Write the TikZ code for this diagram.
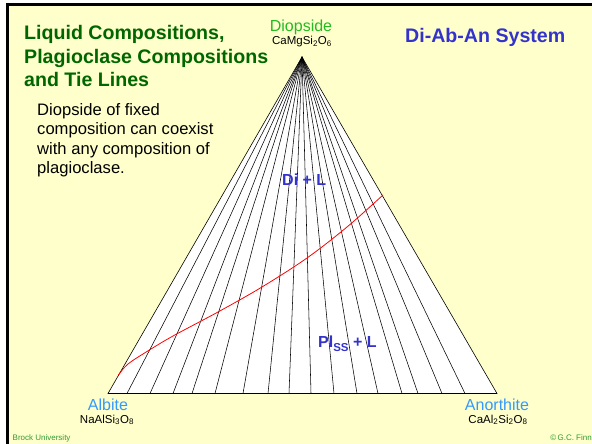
\documentclass[tikz,border=0pt]{standalone}
\usepackage{fontspec}
\setmainfont{Liberation Sans}
\definecolor{bgyellow}{HTML}{FFFFCC}
\definecolor{titlegreen}{HTML}{006600}
\definecolor{digreen}{HTML}{22BB22}
\definecolor{sysblue}{HTML}{3333CC}
\definecolor{endblue}{HTML}{3399FF}
\definecolor{footgreen}{HTML}{339933}
\tikzset{
  titletext/.style={anchor=base west, inner sep=0pt, text=titlegreen, font=\fontsize{19.6}{23.5}\selectfont\bfseries},
  bodytext/.style={anchor=base west, inner sep=0pt, text=black, font=\fontsize{16.6}{19.5}\selectfont},
  endname/.style={anchor=base, inner sep=0pt, text=endblue, font=\fontsize{16}{19}\selectfont},
  formula/.style={anchor=base, inner sep=0pt, text=black, font=\fontsize{11.5}{13}\selectfont},
  fieldlabel/.style={anchor=base west, inner sep=0pt, text=sysblue, font=\fontsize{16}{19}\selectfont\bfseries},
  footer/.style={anchor=base, inner sep=0pt, text=footgreen, font=\fontsize{8}{9}\selectfont},
  edge/.style={draw=black, line width=0.6pt},
  tieline/.style={draw=black, line width=0.55pt},
  liquidus/.style={draw=red, line width=0.8pt}
}
\begin{document}
\begin{tikzpicture}[x=1pt,y=-1pt]
\useasboundingbox (0,0) rectangle (592,444);
\fill[white] (0,0) rectangle (592,444);
\fill[bgyellow] (7,4) rectangle (592,444);
\draw[line width=2.5pt] (7.6,444) -- (7.6,4.6) -- (592,4.6);

% triangle vertices
\coordinate (Di) at (302,57);
\coordinate (Ab) at (108,393.5);
\coordinate (An) at (497,393.5);
\fill[white] (Di) -- (Ab) -- (An) -- cycle;

% tie lines
\foreach \x [count=\i] in {127,150,173,192,215,243,268,289,311,334,357,378,402,418,442,465} {
  \coordinate (b\i) at (\x,393.5);
  \draw[tieline] (Di) -- (b\i);
}
\draw[edge, line join=miter] (Di) -- (Ab) -- (An) -- cycle;

% liquid composition curve
\draw[liquidus] plot[smooth, tension=0.55] coordinates {(118.4,375) (128,364) (147,351.5) (173,336) (218,312) (262,287) (307,258) (347,227) (383,195)};

% titles
\node[titletext] (t1) at (24,40) {Liquid Compositions,};
\node[titletext] (t2) at (24,63.5) {Plagioclase Compositions};
\node[titletext] (t3) at (24,87) {and Tie Lines};
\node[anchor=base west, inner sep=0pt, text=sysblue, font=\fontsize{19.6}{23.5}\selectfont\bfseries] (sys) at (405,43) {Di-Ab-An System};

\node[bodytext] (d1) at (37,115) {Diopside of fixed};
\node[bodytext] (d2) at (37,134.5) {composition can coexist};
\node[bodytext] (d3) at (37,154) {with any composition of};
\node[bodytext] (d4) at (37,173.5) {plagioclase.};

% vertex labels
\node[endname, text=digreen] (diname) at (301,32) {Diopside};
\node[formula] (diform) at (302,45) {CaMgSi\textsubscript{2}O\textsubscript{6}};
\node[endname] (abname) at (108,410.5) {Albite};
\node[formula] (abform) at (107,423) {NaAlSi\textsubscript{3}O\textsubscript{8}};
\node[endname] (anname) at (497,410.5) {Anorthite};
\node[formula] (anform) at (498,423) {CaAl\textsubscript{2}Si\textsubscript{2}O\textsubscript{8}};

% field labels
\node[fieldlabel] (dil) at (282,185) {Di + L};
\node[fieldlabel] (pll) at (318,347) {Pl\raisebox{-0.28em}{\fontsize{11.5}{12}\selectfont SS} + L};

% footers
\node[footer, anchor=base west] (brock) at (12.5,440.5) {Brock University};
\node[footer, anchor=base east] (finn) at (592,440.5) {\textcopyright\,G.C. Finn};
\end{tikzpicture}
\end{document}
